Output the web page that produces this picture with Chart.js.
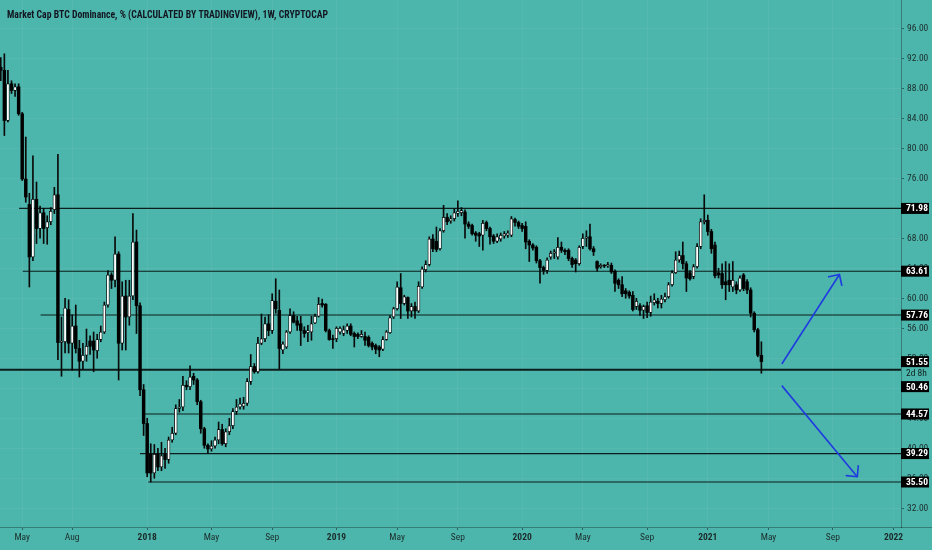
<!DOCTYPE html>
<html><head><meta charset="utf-8">
<script src="https://cdn.jsdelivr.net/npm/chart.js@4.4.1/dist/chart.umd.min.js"></script>
<style>
html,body{margin:0;padding:0;background:#4db6ac;overflow:hidden;}
canvas{display:block;}
</style></head><body>
<canvas id="c" width="932" height="550"></canvas>
<script>
// ---------------- DATA ----------------
const titleText = 'Market Cap BTC Dominance, % (CALCULATED BY TRADINGVIEW), 1W, CRYPTOCAP';
const firstWeek = '2017-03-20';   // open date of the first weekly candle
const opens = [
 90.8,90.4,83.7,88.6,87.7,88.2,84.6,75.9,72.5,65.5, 73.2,69.3,71.4,69.4,70.2,71.8,73.8,54.1,54.2,58.5,
 54.0,56.3,53.3,51.6,52.4,54.3,54.3,53.0,54.5,55.5, 59.1,63.1,62.4,65.9,54.0,60.3,57.5,60.3,67.5,59.0,
 47.8,43.3,39.2,36.7,39.2,37.5,39.2,38.5,41.1,42.0, 45.3,45.5,48.4,48.2,49.6,49.1,46.2,42.6,40.4,39.9,
 40.3,41.1,42.5,40.6,42.2,43.0,44.9,45.5,45.6,46.0, 48.9,50.9,50.2,54.0,54.6,56.6,55.7,59.6,58.4,53.1,
 53.5,55.5,57.7,57.0,56.6,55.7,55.4,55.5,56.7,57.6, 59.3,59.2,55.7,54.6,54.6,55.5,55.3,55.7,56.3,55.3,
 55.2,54.9,54.9,54.8,54.0,53.7,53.5,53.2,54.5,55.4, 57.5,58.6,61.4,59.3,60.1,58.3,58.9,58.3,61.5,63.8,
 64.5,67.9,67.6,66.6,69.0,70.8,70.3,70.6,71.3,71.4, 71.5,69.9,69.7,68.7,68.6,68.4,70.1,69.3,68.3,67.6,
 67.9,68.3,68.4,68.4,70.5,70.1,69.7,69.6,67.6,67.1, 66.8,65.0,64.1,63.7,65.5,66.0,65.5,66.8,66.4,66.4,
 65.3,65.1,64.6,66.9,68.0,68.2,66.6,64.9,64.2,64.4, 64.3,64.4,63.6,62.4,61.8,61.0,60.8,60.4,58.9,59.0,
 58.4,59.0,58.1,59.4,59.6,59.3,59.8,60.2,61.8,63.4, 65.1,65.7,64.6,63.4,62.9,64.2,66.9,70.2,70.4,68.9,
 67.1,63.4,63.3,62.2,62.4,61.5,61.8,61.1,63.1,62.2, 61.1,58.0,55.8,52.4];
const highs = [
 92.1,92.6,90.4,89.0,88.6,88.6,84.8,81.5,74.0,79.0, 75.5,72.3,72.0,71.0,72.1,74.8,79.2,57.5,60.0,59.8,
 57.8,59.1,54.4,54.0,55.9,55.0,55.5,55.2,56.3,59.5, 63.7,63.4,68.2,66.2,62.2,62.4,62.4,71.3,69.1,59.4,
 48.5,44.0,40.6,40.5,40.0,40.8,40.0,41.5,42.8,45.8, 46.5,49.6,49.0,51.0,50.0,49.3,46.4,42.8,40.6,41.0,
 41.5,43.5,43.2,42.6,44.0,45.3,46.5,46.7,46.8,49.3, 52.5,51.3,54.8,57.9,57.5,57.8,60.6,62.6,61.1,54.2,
 55.7,58.6,58.2,57.6,57.6,56.2,56.4,57.6,57.9,60.1, 59.9,59.3,55.9,55.1,56.2,56.2,56.3,56.6,56.6,55.5,
 55.4,55.7,55.5,55.0,54.2,53.9,53.7,54.9,55.7,57.7, 58.8,62.2,63.3,60.4,60.2,59.3,59.5,62.2,64.2,65.0,
 68.2,68.5,69.5,69.3,72.4,71.3,71.0,71.9,73.0,72.1, 71.8,70.2,69.9,68.9,68.8,70.4,70.3,69.5,68.5,68.6,
 68.7,68.9,69.0,70.9,70.7,70.3,70.0,70.2,67.8,67.3, 67.0,65.2,64.3,65.4,66.3,66.5,68.1,67.5,66.6,66.6,
 65.5,65.3,67.0,68.6,69.0,69.9,66.9,65.0,64.6,64.5, 64.8,64.7,63.8,62.6,62.9,61.3,61.0,60.9,60.0,59.3,
 59.1,59.5,60.3,60.6,60.0,60.4,60.7,62.1,63.7,66.2, 66.3,67.5,64.9,63.7,64.5,67.3,70.6,73.8,71.1,69.2,
 67.5,64.0,64.6,64.9,64.6,64.9,62.2,63.0,63.3,62.5, 61.4,58.2,56.0,54.2];
const lows = [
 89.0,81.7,83.5,87.3,86.9,84.4,75.7,72.8,61.5,65.0, 67.3,68.0,67.3,67.2,69.8,71.3,51.8,49.6,52.7,52.7,
 50.4,52.7,49.5,50.5,51.6,52.5,50.2,52.0,54.2,55.3, 58.8,61.3,61.5,49.1,53.1,53.1,56.4,59.8,55.3,47.0,
 41.7,36.2,35.5,36.0,37.0,37.0,37.3,38.0,40.8,41.8, 44.8,45.0,47.8,47.8,48.5,45.8,42.0,40.0,39.3,39.6,
 40.0,40.6,40.4,40.2,41.8,42.6,44.5,45.2,45.2,45.7, 48.5,50.0,50.0,53.8,54.2,55.0,55.3,58.0,50.6,52.6,
 53.3,55.3,56.7,55.7,53.7,54.8,54.2,54.4,56.6,57.5, 58.8,55.5,54.4,53.3,54.2,55.2,55.0,55.3,55.0,53.5,
 54.6,54.8,53.7,53.5,53.1,52.6,52.2,53.0,54.4,55.3, 57.3,58.4,57.3,59.1,57.3,57.5,57.3,58.1,61.3,63.5,
 64.3,66.2,66.2,66.4,68.8,69.8,70.0,70.3,70.9,71.0, 68.0,69.3,68.4,67.6,66.9,66.4,69.0,67.2,67.3,67.4,
 67.6,68.0,68.1,68.2,69.6,69.3,68.9,66.6,64.9,66.4, 64.7,62.0,63.2,63.3,65.2,65.3,65.2,66.1,65.8,65.0,
 64.1,63.5,64.4,66.6,66.9,66.4,65.7,63.6,64.0,64.1, 64.1,63.3,60.9,61.3,60.2,60.0,60.0,58.3,58.5,57.7,
 57.3,57.4,57.6,59.1,58.7,58.7,59.5,60.0,61.6,63.3, 64.8,63.9,60.9,62.4,62.6,64.0,66.6,69.9,68.4,66.0,
 62.7,62.7,61.3,59.8,60.9,60.9,60.6,60.9,61.0,60.6, 57.5,55.5,52.2,50.0];
const closes = [
 90.4,83.7,88.6,87.7,88.2,84.6,75.9,73.5,65.5,73.2, 69.3,71.4,69.3,70.2,71.6,73.8,54.1,54.3,58.7,54.0,
 56.3,53.3,51.6,52.4,53.6,53.6,53.1,54.5,55.5,59.1, 63.1,62.4,65.9,54.0,60.3,57.5,60.3,67.5,59.0,47.8,
 43.3,36.7,36.7,39.2,37.5,39.0,38.5,41.1,42.0,45.3, 45.5,48.4,48.2,49.5,49.1,46.2,42.6,40.4,39.9,40.3,
 41.1,42.5,40.6,42.2,43.0,44.9,45.5,45.9,46.0,48.9, 50.9,50.2,54.0,54.6,56.6,55.7,59.7,58.6,53.3,53.9,
 55.5,57.7,56.8,56.4,55.7,55.3,55.7,56.6,57.6,59.2, 59.1,55.7,54.5,54.5,56.0,56.0,55.8,56.3,55.2,54.9,
 54.9,55.2,54.4,53.7,53.5,53.2,53.1,54.5,55.5,57.4, 58.6,61.5,59.3,60.2,58.3,58.9,58.3,61.6,63.9,64.5,
 67.9,66.6,66.5,69.0,70.8,70.2,70.6,71.4,71.6,71.7, 69.9,69.6,68.6,68.4,68.3,70.0,69.3,68.2,67.6,68.2,
 68.4,68.6,68.7,70.6,70.1,69.6,69.3,67.5,67.1,66.7, 65.0,64.1,63.7,65.1,66.0,66.2,66.8,66.4,66.2,65.3,
 64.5,64.6,66.8,68.0,68.2,66.6,66.2,64.0,64.4,64.3, 64.5,63.5,62.0,61.8,60.6,60.6,60.3,58.5,59.6,58.4,
 58.9,58.1,59.5,59.8,59.3,59.9,60.2,61.8,63.4,65.1, 65.7,64.6,62.7,62.6,64.2,66.9,70.2,70.4,68.9,66.6,
 63.0,63.1,61.8,61.8,61.8,62.4,61.1,62.7,61.3,61.1, 58.0,55.8,52.4,51.55];

// horizontal levels drawn on the chart (value + the date the drawing starts)
const levelValues = [71.98, 63.61, 57.76, 50.46, 44.57, 39.29, 35.50];
const levelStarts = ['2017-04-25','2017-05-02','2017-06-06','2017-03-01','2017-12-27','2017-12-18','2018-01-03'];
const lastPrice = 51.55;
const countdownText = '2d 8h';

// two projection arrows (date, value)
const arrowUpDates = ['2021-05-29','2021-09-19'];
const arrowUpValues = [51.24, 63.17];
const arrowDownDates = ['2021-05-29','2021-10-24'];
const arrowDownValues = [48.35, 36.21];

// axis ticks
const tickMonths = ['2017-05','2017-08','2018-01','2018-05','2018-09','2019-01','2019-05','2019-09','2020-01','2020-05','2020-09','2021-01','2021-05','2021-09','2022-01'];
const tickLabels = ['May','Aug','2018','May','Sep','2019','May','Sep','2020','May','Sep','2021','May','Sep','2022'];
const yTickValues = [32,36,40,44,48,52,56,60,64,68,72,76,80,84,88,92,96];

// visible range (weeks relative to 2018-01-01) and price range
const viewFrom = -41.22, viewTo = 211.1;
const priceMin = 29.5, priceMax = 99.77;

// ---------------- HELPERS ----------------
const FONT = "'Liberation Sans Narrow','Roboto Condensed','DejaVu Sans Condensed','Liberation Sans',Arial,sans-serif";
const BG = '#4db6ac';
const EPOCH = Date.UTC(2018,0,1), WEEK = 7*864e5;
function weekOf(s){ const p = s.split('-').map(Number); return (Date.UTC(p[0], p[1]-1, p[2]||1) - EPOCH)/WEEK; }
const startW = weekOf(firstWeek);
const xs = opens.map((_, i) => startW + i);
const isUp = opens.map((o, i) => closes[i] >= o);
const tickPositions = tickMonths.map(m => Math.ceil(weekOf(m + '-01') - 1e-9));

const levelDatasets = levelValues.map((v, i) => ({
  type: 'line',
  data: [{x: weekOf(levelStarts[i]), y: v}, {x: viewTo + 5, y: v}],
  borderColor: 'rgba(8,16,16,0.92)',
  borderWidth: i === 3 ? 2 : 1.1,
  pointRadius: 0, fill: false, tension: 0, order: 5
}));
const arrowDatasets = [[arrowUpDates, arrowUpValues], [arrowDownDates, arrowDownValues]].map(([d, v]) => ({
  type: 'line', isArrow: true,
  data: d.map((s, i) => ({x: weekOf(s), y: v[i]})),
  borderColor: '#1f3ce0', borderWidth: 1.6,
  pointRadius: 0, fill: false, tension: 0, order: 0
}));
const wickDataset = {
  type: 'bar',
  data: xs.map((x, i) => ({x, y: [lows[i], highs[i]]})),
  backgroundColor: '#0a0a0a', borderWidth: 0,
  barThickness: 1, grouped: false, order: 3
};
const bodyDataset = {
  type: 'bar',
  data: xs.map((x, i) => ({x, y: [opens[i], closes[i]]})),
  backgroundColor: isUp.map(u => u ? '#ffffff' : '#000000'),
  borderColor: '#000000',
  borderWidth: isUp.map(u => u ? 0.8 : 0),
  borderSkipped: false,
  barThickness: 2.8, grouped: false, order: 2
};

const bgPlugin = {
  id: 'bg',
  beforeDraw(chart) {
    const c = chart.ctx;
    c.save(); c.fillStyle = BG; c.fillRect(0, 0, chart.width, chart.height); c.restore();
  }
};

const overlayPlugin = {
  id: 'overlay',
  afterDatasetsDraw(chart) {
    const c = chart.ctx;
    // arrowheads
    chart.data.datasets.forEach((ds, di) => {
      if (!ds.isArrow) return;
      const pts = chart.getDatasetMeta(di).data;
      const a = pts[pts.length - 2], b = pts[pts.length - 1];
      const ang = Math.atan2(b.y - a.y, b.x - a.x) + Math.PI;
      const L = 11, spread = Math.PI / 4;
      c.save();
      c.strokeStyle = ds.borderColor; c.lineWidth = ds.borderWidth; c.lineCap = 'round';
      c.beginPath();
      c.moveTo(b.x + L * Math.cos(ang + spread), b.y + L * Math.sin(ang + spread));
      c.lineTo(b.x, b.y);
      c.lineTo(b.x + L * Math.cos(ang - spread), b.y + L * Math.sin(ang - spread));
      c.stroke();
      c.restore();
    });
  },
  afterDraw(chart) {
    const c = chart.ctx;
    const area = chart.chartArea;
    const yS = chart.scales.y;
    // extend bottom axis line under the price scale
    c.save();
    c.strokeStyle = 'rgba(0,0,0,0.3)'; c.lineWidth = 1;
    c.beginPath(); c.moveTo(area.right, area.bottom + 0.5); c.lineTo(chart.width, area.bottom + 0.5); c.stroke();
    c.restore();

    // price labels on the scale
    const items = levelValues.map(v => ({v, text: v.toFixed(2), sub: null}));
    items.push({v: lastPrice, text: lastPrice.toFixed(2), sub: countdownText});
    items.forEach(it => it.y = yS.getPixelForValue(it.v));
    items.sort((a, b) => a.y - b.y);
    const boxH = 11, subH = 13;
    let prevBottom = -1e9;
    c.save();
    c.textBaseline = 'middle';
    items.forEach(it => {
      let top = it.y - boxH / 2;
      if (top < prevBottom + 1) top = prevBottom + 1;
      const h = boxH + (it.sub ? subH : 0);
      c.fillStyle = '#000000';
      c.fillRect(area.right, top, 28, boxH);
      c.fillStyle = '#ffffff';
      c.font = `bold 9.5px ${FONT}`;
      c.fillText(it.text, area.right + 5, top + boxH / 2 + 0.5);
      if (it.sub) {
        c.fillStyle = '#0f1f1e';
        c.font = `9.5px ${FONT}`;
        c.fillText(it.sub, area.right + 5, top + boxH + subH / 2 - 0.5);
      }
      prevBottom = top + h;
    });
    c.restore();

    // title
    c.save();
    c.font = `bold 10.5px ${FONT}`;
    const w = c.measureText(titleText).width;
    c.translate(7, 15.5);
    c.scale(321 / w, 1);
    c.fillStyle = '#131722';
    c.textBaseline = 'middle';
    c.fillText(titleText, 0, 0);
    c.restore();
  }
};

new Chart(document.getElementById('c'), {
  type: 'bar',
  data: { datasets: [...levelDatasets, wickDataset, bodyDataset, ...arrowDatasets] },
  options: {
    responsive: false, animation: false, events: [],
    devicePixelRatio: 1,
    layout: { padding: 0 },
    plugins: { legend: {display: false}, tooltip: {enabled: false}, title: {display: false} },
    scales: {
      x: {
        type: 'linear', position: 'bottom', min: viewFrom, max: viewTo, offset: false,
        grid: { offset: false, color: 'rgba(255,255,255,0.05)', tickColor: 'rgba(0,0,0,0.45)', tickLength: 3 },
        border: { color: 'rgba(0,0,0,0.3)' },
        ticks: {
          autoSkip: false, maxRotation: 0, padding: 2, color: '#1b2b2a',
          font: (ctx) => ({ family: FONT, size: 9.5, weight: /^\d{4}$/.test(tickLabels[ctx.index] || '') ? 'bold' : 'normal' }),
          callback: (v, i) => tickLabels[i]
        },
        afterBuildTicks: (s) => { s.ticks = tickPositions.map(v => ({value: v})); },
        afterFit: (s) => { s.height = 23; s.paddingLeft = 0; s.paddingRight = 0; }
      },
      y: {
        type: 'linear', position: 'right', min: priceMin, max: priceMax, beginAtZero: false,
        grid: { color: 'rgba(255,255,255,0.05)', tickColor: 'rgba(0,0,0,0.45)', tickLength: 3 },
        border: { color: 'rgba(0,0,0,0.3)' },
        ticks: { padding: 3, color: '#1b2b2a', font: { family: FONT, size: 9.5 }, callback: (v) => Number(v).toFixed(2) },
        afterBuildTicks: (s) => { s.ticks = yTickValues.map(v => ({value: v})); },
        afterFit: (s) => { s.width = 31; s.paddingTop = 0; s.paddingBottom = 0; }
      }
    }
  },
  plugins: [bgPlugin, overlayPlugin]
});
</script>
</body></html>
